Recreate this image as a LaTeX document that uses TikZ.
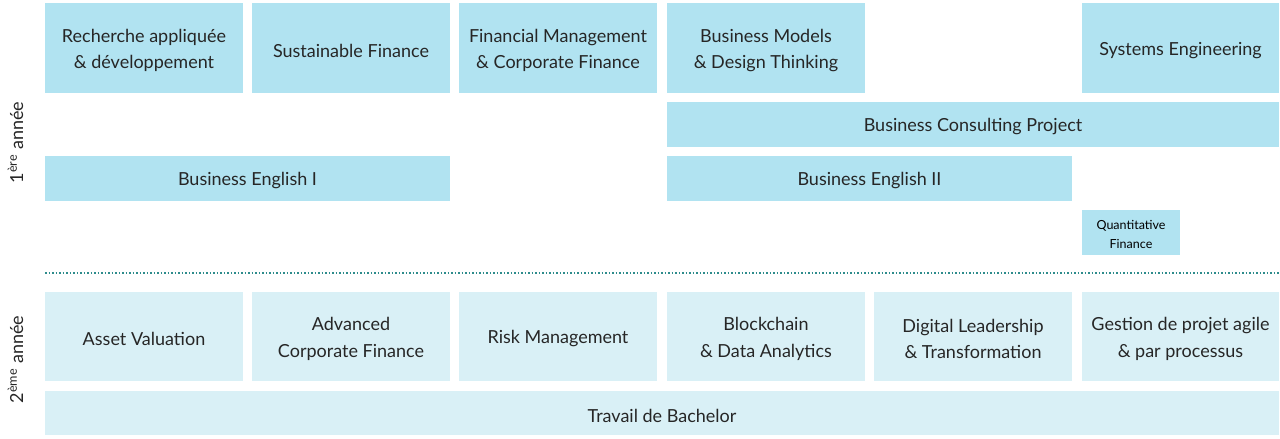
\documentclass[tikz,border=0pt]{standalone}
\usepackage{fontspec}
\setmainfont{Lato}
\begin{document}
\begin{tikzpicture}[x=1pt,y=-1pt,
  lbl/.style={font=\fontsize{18}{26.5}\selectfont,align=center,text=black!85,yshift=-2.5pt}]
\definecolor{c1}{HTML}{B1E3F1}
\definecolor{c2}{HTML}{D9F0F6}
\definecolor{c3}{HTML}{2E8C8C}
\useasboundingbox (0,0) rectangle (1280,439);
\newcommand\bx[6]{\fill[#1] (#2,#3) rectangle (#4,#5); \node[lbl] at ({(#2+#4)/2},{(#3+#5)/2}) {#6};}
\bx{c1}{45}{3}{243}{93}{Recherche appliquée\\\& développement}
\bx{c1}{252}{3}{450}{93}{Sustainable Finance}
\bx{c1}{459}{3}{657}{93}{Financial Management\\\& Corporate Finance}
\bx{c1}{667}{3}{865}{93}{Business Models\\\& Design Thinking}
\bx{c1}{1082}{3}{1279}{93}{Systems Engineering}
\bx{c1}{667}{102}{1279}{147}{Business Consulting Project}
\bx{c1}{45}{156}{450}{201}{Business English I}
\bx{c1}{667}{156}{1072}{201}{Business English II}
\fill[c1] (1082,210) rectangle (1180,255);
\node[font=\fontsize{12.5}{19}\selectfont,align=center,yshift=-1.5pt] (q) at (1131,232.5) {Quantitative\\Finance};
\draw[c3,line width=1.5pt,dotted] (45,273) coordinate (l1) -- (1279,273) coordinate (l2);
\bx{c2}{45}{292}{243}{381}{Asset Valuation}
\bx{c2}{252}{292}{450}{381}{Advanced\\Corporate Finance}
\bx{c2}{459}{292}{657}{381}{Risk Management}
\bx{c2}{667}{292}{865}{381}{Blockchain\\\& Data Analytics}
\bx{c2}{874}{292}{1072}{381}{Digital Leadership\\\& Transformation}
\bx{c2}{1082}{292}{1279}{381}{Gestion de projet agile\\\& par processus}
\bx{c2}{45}{391}{1279}{435}{Travail de Bachelor}
\node[lbl,rotate=90,yshift=2.5pt,xshift=-2pt] (y1) at (18,138) {1\textsuperscript{ère} année};
\node[lbl,rotate=90,yshift=2.5pt,xshift=-2pt] (y2) at (18,355) {2\textsuperscript{ème} année};
\end{tikzpicture}
\end{document}
